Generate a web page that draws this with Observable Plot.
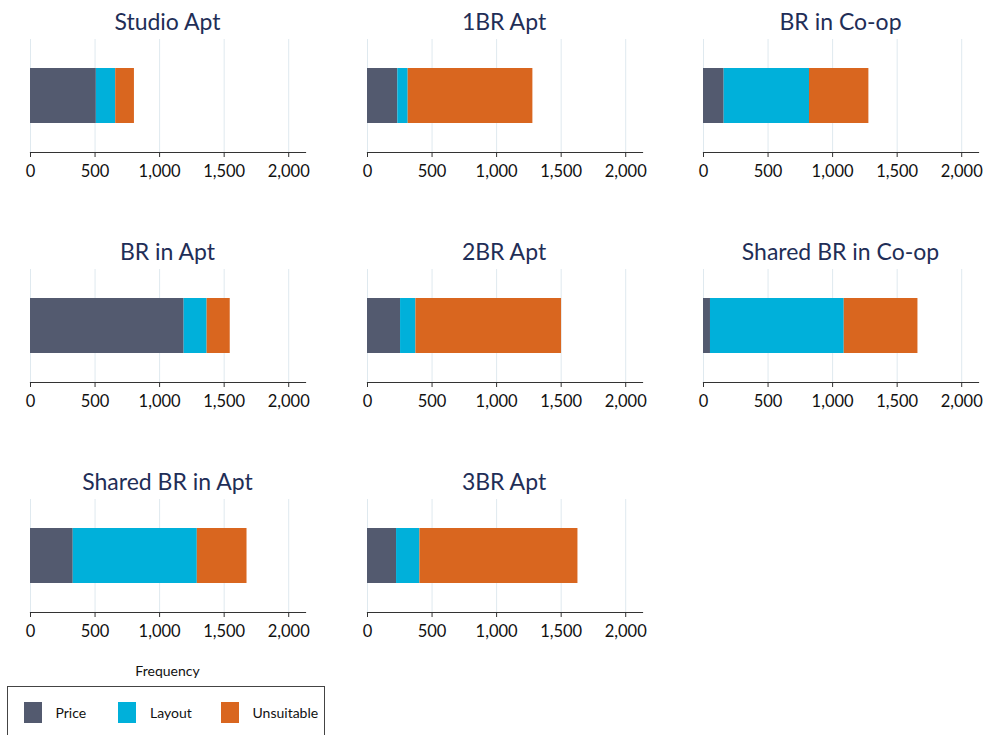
<!DOCTYPE html>
<html>
<head>
<meta charset="utf-8">
<script src="https://cdn.jsdelivr.net/npm/d3@7"></script>
<script src="https://cdn.jsdelivr.net/npm/@observablehq/plot@0.6"></script>
<style>
  html, body { margin: 0; padding: 0; background: #fff; }
  #root { position: relative; width: 989px; height: 735px; overflow: hidden; font-family: Lato, "Open Sans", sans-serif; }
  .panel { position: absolute; }
  .panel svg { max-width: none !important; }
  .ptitle { position: absolute; text-align: center; font-size: 23px; line-height: 23px; color: #1f2e57; white-space: nowrap; }
  .xlabel { position: absolute; font-size: 14px; color: #111; text-align: center; }
  .legend { position: absolute; border: 1px solid #444; box-sizing: border-box; }
  .sw { position: absolute; width: 18px; height: 21px; }
  .lt { position: absolute; font-size: 14px; color: #111; line-height: 21px; }
</style>
</head>
<body>
<div id="root"></div>
<script>
const panels = ["Studio Apt", "1BR Apt", "BR in Co-op", "BR in Apt", "2BR Apt", "Shared BR in Co-op", "Shared BR in Apt", "3BR Apt"];
const reasons = ["Price", "Layout", "Unsuitable"];
const price = [510, 235, 160, 1190, 256, 54, 331, 225];
const layout = [150, 80, 661, 178, 119, 1036, 961, 181];
const unsuitable = [145, 966, 460, 179, 1128, 571, 385, 1224];
const colors = ["#535a6f", "#00b0da", "#d9661f"];
const xTicks = [0, 500, 1000, 1500, 2000];
const xTitle = "Frequency";

const series = [price, layout, unsuitable];
const root = document.getElementById("root");

const colStep = 336.5, rowStep = 230;
const frameTop = 39, frameH = 113;
const mLeft = 30, mRight = 10, plotW = 275, svgW = mLeft + plotW + mRight, mBottom = 38;

panels.forEach((name, i) => {
  const col = i % 3, row = Math.floor(i / 3);
  const rows = reasons.map((r, k) => ({panel: name, reason: r, value: series[k][i]}));
  const chart = Plot.plot({
    width: svgW,
    height: frameH + mBottom,
    marginLeft: mLeft,
    marginRight: mRight,
    marginTop: 0,
    marginBottom: mBottom,
    style: {fontFamily: "Lato, 'Open Sans', sans-serif", fontSize: "16px", color: "#111", background: "transparent", overflow: "visible", maxWidth: "none"},
    x: {domain: [0, 2130], ticks: xTicks, tickFormat: d3.format(","), label: null},
    y: {domain: [name], padding: 0.34, axis: null},
    color: {domain: reasons, range: colors},
    marks: [
      Plot.gridX(xTicks, {stroke: "#dfe9ef", strokeOpacity: 1, strokeWidth: 1}),
      Plot.barX(rows, Plot.stackX({x: "value", y: "panel", fill: "reason"})),
      Plot.frame({anchor: "bottom", stroke: "#333", strokeWidth: 1.2}),
      Plot.axisX(xTicks, {tickSize: 5, tickPadding: 8, tickFormat: d3.format(","), label: null, stroke: "#333", fill: "#111", fontSize: 16.5})
    ]
  });
  const wrap = document.createElement("div");
  wrap.className = "panel";
  wrap.style.left = (col * colStep) + "px";
  wrap.style.top = (frameTop + row * rowStep) + "px";
  wrap.style.width = svgW + "px";
  wrap.appendChild(chart);
  root.appendChild(wrap);

  const t = document.createElement("div");
  t.className = "ptitle";
  t.textContent = name;
  t.style.left = (col * colStep + mLeft) + "px";
  t.style.width = plotW + "px";
  t.style.top = (10 + row * rowStep) + "px";
  root.appendChild(t);
});

const xl = document.createElement("div");
xl.className = "xlabel";
xl.textContent = xTitle;
xl.style.left = mLeft + "px";
xl.style.width = plotW + "px";
xl.style.top = "662px";
root.appendChild(xl);

const lg = document.createElement("div");
lg.className = "legend";
lg.style.left = "7px";
lg.style.top = "686px";
lg.style.width = "318px";
lg.style.height = "70px";
root.appendChild(lg);
const swX = [16, 109.5, 213];
const txX = [47.5, 142, 244.5];
reasons.forEach((r, k) => {
  const s = document.createElement("div");
  s.className = "sw";
  s.style.left = swX[k] + "px";
  s.style.top = "15px";
  s.style.background = colors[k];
  lg.appendChild(s);
  const t = document.createElement("div");
  t.className = "lt";
  t.textContent = r;
  t.style.left = txX[k] + "px";
  t.style.top = "15px";
  lg.appendChild(t);
});
</script>
</body>
</html>
